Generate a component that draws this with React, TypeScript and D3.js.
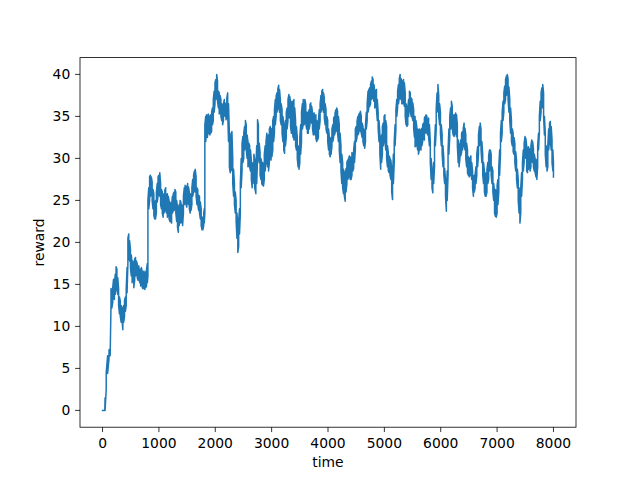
import React from 'react';
import * as d3 from 'd3';

// time steps (x)
const time = [
  0, 40, 45, 65, 90, 115, 135, 150, 165, 180,
  195, 210, 225, 240, 255, 270, 285, 300, 315, 330,
  345, 360, 375, 390, 405, 420, 435, 450, 465, 480,
  495, 510, 525, 540, 555, 570, 585, 600, 615, 630,
  645, 660, 675, 690, 705, 720, 735, 750, 765, 780,
  795, 805, 820, 835, 850, 865, 880, 895, 910, 925,
  940, 955, 970, 985, 1000, 1015, 1030, 1045, 1060, 1075,
  1090, 1105, 1120, 1135, 1150, 1165, 1180, 1195, 1210, 1225,
  1240, 1255, 1270, 1285, 1300, 1315, 1330, 1345, 1360, 1375,
  1390, 1405, 1420, 1435, 1450, 1465, 1480, 1495, 1510, 1525,
  1540, 1555, 1570, 1585, 1600, 1615, 1630, 1645, 1660, 1675,
  1690, 1705, 1720, 1735, 1750, 1765, 1780, 1795, 1805, 1815,
  1830, 1845, 1860, 1875, 1890, 1905, 1920, 1935, 1950, 1965,
  1980, 1995, 2010, 2025, 2040, 2055, 2070, 2085, 2100, 2115,
  2130, 2145, 2160, 2175, 2190, 2205, 2220, 2235, 2250, 2265,
  2280, 2295, 2310, 2325, 2340, 2355, 2370, 2385, 2400, 2415,
  2430, 2445, 2460, 2475, 2490, 2505, 2520, 2535, 2550, 2565,
  2580, 2595, 2610, 2625, 2640, 2655, 2670, 2685, 2700, 2720,
  2735, 2750, 2765, 2780, 2795, 2810, 2825, 2840, 2855, 2870,
  2885, 2900, 2915, 2930, 2945, 2960, 2975, 2990, 3005, 3020,
  3035, 3050, 3065, 3080, 3095, 3110, 3125, 3140, 3155, 3170,
  3185, 3200, 3215, 3230, 3245, 3260, 3275, 3290, 3305, 3320,
  3335, 3350, 3365, 3380, 3395, 3410, 3425, 3440, 3455, 3470,
  3485, 3500, 3515, 3530, 3545, 3560, 3575, 3590, 3605, 3620,
  3635, 3650, 3665, 3680, 3695, 3710, 3725, 3740, 3755, 3770,
  3785, 3800, 3815, 3830, 3845, 3860, 3875, 3890, 3905, 3920,
  3935, 3950, 3965, 3980, 3995, 4010, 4025, 4040, 4055, 4070,
  4085, 4100, 4115, 4125, 4140, 4155, 4170, 4185, 4200, 4215,
  4230, 4245, 4260, 4275, 4290, 4305, 4320, 4335, 4350, 4365,
  4380, 4395, 4410, 4425, 4440, 4455, 4470, 4485, 4500, 4515,
  4530, 4545, 4560, 4575, 4590, 4605, 4620, 4635, 4650, 4665,
  4680, 4695, 4710, 4725, 4740, 4755, 4770, 4785, 4800, 4815,
  4830, 4845, 4860, 4875, 4890, 4905, 4920, 4935, 4950, 4965,
  4980, 4995, 5010, 5025, 5040, 5055, 5070, 5085, 5100, 5115,
  5130, 5145, 5160, 5175, 5190, 5205, 5220, 5235, 5250, 5265,
  5280, 5295, 5310, 5325, 5340, 5355, 5370, 5385, 5400, 5415,
  5430, 5445, 5460, 5475, 5490, 5505, 5520, 5535, 5545, 5560,
  5575, 5590, 5605, 5620, 5635, 5650, 5665, 5680, 5695, 5710,
  5725, 5740, 5755, 5770, 5785, 5800, 5815, 5830, 5845, 5860,
  5875, 5890, 5905, 5920, 5935, 5950, 5965, 5980, 5995, 6010,
  6025, 6040, 6055, 6070, 6085, 6100, 6115, 6130, 6145, 6160,
  6175, 6190, 6205, 6220, 6235, 6250, 6265, 6280, 6295, 6310,
  6325, 6340, 6355, 6370, 6385, 6400, 6415, 6430, 6445, 6460,
  6475, 6490, 6505, 6520, 6535, 6550, 6565, 6580, 6595, 6610,
  6625, 6640, 6655, 6670, 6685, 6700, 6715, 6730, 6745, 6760,
  6775, 6790, 6805, 6820, 6835, 6850, 6865, 6880, 6895, 6910,
  6925, 6940, 6955, 6970, 6985, 7000, 7015, 7030, 7045, 7060,
  7075, 7090, 7105, 7120, 7135, 7150, 7165, 7180, 7195, 7210,
  7225, 7240, 7255, 7270, 7285, 7300, 7315, 7330, 7345, 7360,
  7375, 7390, 7405, 7420, 7435, 7450, 7465, 7480, 7495, 7510,
  7525, 7540, 7555, 7570, 7585, 7600, 7615, 7630, 7645, 7660,
  7675, 7690, 7705, 7720, 7735, 7750, 7765, 7780, 7795, 7810,
  7825, 7840, 7855, 7870, 7885, 7900, 7915, 7930, 7945, 7960,
  7975, 7990, 8000,
];

// lower edge of the noisy reward trace at each time step
const rewardLow = [
  0, 0, 0, 2.5, 4.4, 6.2, 6.5, 12.5, 12.2, 12.8,
  13.5, 13.2, 13.8, 14.8, 14.5, 13.8, 12.5, 11.5, 11.2, 10.5,
  10.8, 9.6, 10.5, 11.2, 11.8, 12.5, 14.0, 17.5, 18.5, 17.8,
  17.0, 16.0, 15.2, 15.8, 14.6, 15.5, 16.0, 16.2, 15.8, 15.5,
  15.8, 15.2, 14.8, 15.2, 14.6, 14.5, 14.8, 14.4, 14.6, 14.8,
  15.2, 16.0, 24.0, 25.0, 25.5, 25.8, 25.0, 24.0, 23.2, 22.8,
  22.8, 23.5, 24.8, 25.5, 26.0, 25.5, 24.5, 24.0, 23.5, 23.0,
  23.5, 24.0, 23.8, 23.5, 23.0, 23.5, 22.8, 22.5, 22.5, 22.3,
  23.5, 23.8, 23.8, 24.3, 23.5, 22.5, 21.8, 21.2, 22.0, 23.0,
  22.3, 22.5, 22.0, 23.5, 24.5, 25.0, 24.5, 24.2, 24.8, 24.5,
  24.0, 23.5, 23.8, 24.5, 25.5, 26.0, 26.5, 26.0, 25.5, 24.5,
  24.5, 23.8, 23.5, 22.8, 22.0, 21.5, 21.5, 22.0, 22.3, 23.5,
  32.0, 33.0, 32.5, 33.5, 33.0, 32.8, 33.0, 33.2, 34.0, 34.5,
  35.5, 36.5, 37.0, 37.5, 36.8, 36.0, 35.3, 35.5, 35.0, 34.5,
  34.0, 34.5, 35.2, 35.0, 34.6, 35.0, 35.5, 32.0, 29.0, 28.3,
  28.5, 28.7, 27.0, 25.5, 24.5, 23.5, 22.5, 20.5, 18.8, 19.5,
  21.0, 23.5, 26.5, 28.5, 29.5, 30.0, 31.0, 31.8, 31.0, 30.0,
  29.0, 29.5, 29.0, 28.5, 27.5, 26.5, 27.0, 27.5, 26.5, 25.8,
  27.0, 30.0, 30.5, 29.5, 28.0, 27.5, 27.0, 26.8, 26.7, 27.5,
  28.5, 29.5, 30.0, 29.0, 28.5, 29.5, 30.0, 29.8, 30.2, 31.0,
  32.0, 33.0, 34.0, 35.0, 35.5, 36.0, 36.5, 35.5, 34.5, 34.0,
  33.0, 32.0, 31.0, 30.6, 31.5, 32.5, 33.5, 34.5, 35.0, 34.8,
  33.8, 33.0, 33.5, 32.5, 32.2, 32.5, 31.5, 31.0, 30.0, 29.0,
  28.7, 29.5, 30.5, 32.0, 33.5, 34.0, 34.0, 34.5, 34.2, 33.5,
  33.0, 33.0, 33.5, 34.0, 34.5, 34.2, 33.5, 32.8, 33.0, 32.8,
  32.4, 32.0, 32.2, 32.5, 33.5, 34.5, 35.5, 36.0, 36.0, 35.5,
  34.8, 34.0, 33.5, 33.0, 32.0, 31.0, 30.5, 30.2, 30.5, 31.5,
  32.0, 32.5, 32.8, 33.0, 33.2, 33.5, 33.0, 32.0, 31.0, 29.5,
  28.5, 27.0, 26.5, 25.8, 25.5, 24.9, 26.0, 27.0, 27.5, 27.8,
  28.0, 27.5, 27.5, 28.0, 28.5, 28.8, 29.5, 31.0, 32.0, 32.5,
  32.8, 33.0, 33.5, 33.2, 33.0, 32.5, 32.0, 31.5, 31.2, 32.0,
  33.5, 34.5, 35.5, 36.0, 36.2, 36.5, 37.0, 37.5, 37.2, 36.8,
  36.0, 36.2, 35.8, 34.5, 33.5, 32.0, 30.5, 28.7, 29.5, 30.5,
  31.5, 32.5, 32.0, 31.0, 30.0, 29.0, 28.5, 28.3, 28.0, 27.5,
  26.0, 25.1, 27.0, 29.5, 31.5, 33.5, 35.0, 36.0, 36.5, 37.2,
  37.5, 37.0, 36.5, 36.5, 36.8, 36.2, 35.0, 34.0, 33.8, 34.0,
  35.0, 36.0, 35.8, 35.0, 35.0, 34.5, 33.5, 32.5, 31.4, 31.5,
  31.8, 31.0, 30.5, 31.0, 31.2, 31.0, 31.5, 32.0, 32.5, 32.2,
  33.0, 33.2, 33.0, 32.8, 32.5, 31.5, 29.5, 27.5, 26.5, 25.9,
  27.0, 29.0, 31.5, 33.5, 35.5, 36.0, 35.0, 34.0, 33.0, 31.5,
  30.5, 29.0, 28.0, 27.0, 25.5, 23.7, 25.0, 28.0, 30.5, 32.5,
  33.5, 34.0, 33.5, 32.8, 32.6, 33.0, 33.2, 32.6, 31.5, 29.5,
  29.0, 29.9, 30.3, 30.7, 31.0, 31.5, 32.0, 31.0, 29.9, 29.0,
  28.3, 28.0, 27.8, 28.0, 28.5, 27.5, 26.5, 25.5, 26.0, 26.5,
  27.0, 28.0, 29.0, 30.5, 31.5, 31.8, 31.0, 29.5, 28.0, 27.0,
  26.0, 25.5, 25.5, 26.0, 27.0, 27.5, 28.5, 29.0, 28.0, 27.0,
  26.0, 25.0, 23.5, 23.1, 23.0, 23.5, 24.5, 26.0, 28.0, 30.5,
  32.0, 33.0, 34.5, 35.5, 36.5, 37.0, 37.5, 37.8, 37.0, 35.5,
  34.5, 33.0, 32.0, 31.5, 30.8, 30.5, 29.5, 28.5, 27.5, 26.5,
  25.0, 23.5, 22.3, 23.5, 25.5, 27.5, 28.5, 29.5, 30.5, 30.0,
  28.5, 28.3, 28.7, 29.0, 28.5, 29.0, 30.0, 29.5, 29.0, 28.5,
  28.3, 27.8, 27.5, 29.0, 31.0, 33.0, 34.5, 35.5, 36.0, 36.5,
  35.0, 32.8, 30.5, 29.0, 28.5, 29.0, 31.0, 32.2, 32.0, 31.0,
  29.5, 28.5, 27.8,
];

// upper edge of the noisy reward trace at each time step
const rewardHigh = [
  0, 0, 1.5, 4.5, 6.5, 7.2, 7.3, 14.5, 14.2, 14.6,
  15.6, 15.0, 16.2, 17.1, 16.8, 15.8, 14.5, 13.5, 13.0, 12.5,
  12.2, 11.8, 12.5, 13.1, 13.5, 14.5, 17.0, 20.5, 21.0, 20.2,
  19.2, 18.5, 17.5, 17.8, 17.0, 18.0, 18.2, 17.8, 17.5, 17.2,
  17.2, 16.8, 16.8, 17.0, 16.5, 16.2, 16.6, 16.0, 16.5, 16.8,
  17.5, 25.0, 26.5, 27.8, 28.0, 27.8, 27.2, 26.3, 25.8, 24.5,
  25.0, 26.0, 27.0, 27.8, 28.0, 28.3, 27.0, 26.3, 26.0, 25.5,
  25.8, 26.2, 26.5, 25.5, 25.8, 25.5, 25.0, 24.8, 24.5, 24.5,
  25.5, 25.8, 26.0, 26.3, 26.0, 25.0, 24.2, 23.8, 24.5, 25.0,
  24.8, 24.5, 24.0, 25.5, 26.5, 26.8, 26.6, 26.3, 27.0, 26.6,
  26.0, 25.8, 25.6, 26.5, 27.5, 28.0, 28.5, 28.7, 27.8, 26.5,
  26.3, 25.6, 25.5, 24.8, 24.0, 23.0, 23.0, 23.5, 24.0, 34.0,
  35.0, 35.2, 34.8, 35.3, 35.0, 34.8, 35.2, 35.5, 36.0, 37.0,
  38.0, 39.0, 39.4, 40.0, 39.2, 38.0, 37.8, 37.5, 37.0, 36.5,
  36.0, 36.5, 37.0, 36.6, 36.2, 37.2, 37.8, 36.5, 33.0, 31.0,
  33.0, 33.2, 30.0, 28.7, 27.0, 26.0, 25.0, 23.5, 22.0, 22.5,
  24.0, 27.0, 30.0, 31.8, 32.6, 33.0, 33.8, 34.5, 34.0, 32.8,
  32.0, 31.8, 31.5, 31.0, 29.8, 29.0, 29.5, 30.5, 29.8, 29.0,
  31.5, 34.6, 34.0, 31.8, 30.7, 30.0, 29.5, 29.5, 29.3, 30.5,
  31.5, 32.0, 33.0, 32.5, 32.8, 33.5, 33.8, 33.2, 33.6, 34.5,
  35.0, 35.8, 37.0, 37.4, 37.8, 38.3, 38.7, 38.2, 37.0, 36.5,
  35.8, 35.0, 34.0, 33.5, 34.5, 35.5, 36.0, 37.0, 37.6, 37.4,
  36.8, 36.5, 36.8, 36.5, 37.0, 36.0, 34.5, 33.8, 32.5, 31.5,
  31.0, 32.5, 34.0, 35.5, 36.5, 37.0, 36.8, 37.0, 36.5, 35.5,
  35.5, 35.2, 35.8, 36.4, 36.6, 36.2, 35.5, 35.0, 35.4, 35.0,
  35.2, 34.5, 34.2, 34.5, 35.8, 36.5, 37.5, 38.0, 38.2, 37.8,
  37.2, 36.5, 35.8, 35.0, 34.5, 33.5, 32.5, 32.0, 32.5, 33.5,
  34.0, 34.8, 35.0, 35.4, 35.8, 36.0, 35.6, 35.0, 34.0, 33.0,
  31.5, 30.5, 29.5, 28.7, 28.3, 27.8, 28.8, 29.5, 29.8, 30.0,
  30.3, 30.0, 30.2, 30.7, 30.5, 31.0, 32.0, 33.5, 33.8, 34.4,
  35.0, 35.2, 35.4, 35.6, 35.0, 34.2, 33.8, 33.5, 33.0, 34.0,
  35.5, 36.5, 38.0, 38.2, 38.4, 38.8, 39.2, 39.7, 39.4, 38.8,
  38.0, 38.0, 38.2, 37.0, 35.5, 34.5, 33.0, 32.0, 32.8, 33.8,
  34.2, 35.0, 35.2, 34.5, 33.8, 31.5, 30.7, 30.3, 30.0, 29.8,
  28.8, 28.0, 30.5, 32.0, 34.0, 35.8, 37.0, 38.0, 38.8, 39.5,
  40.0, 39.5, 39.2, 39.0, 39.4, 39.0, 37.8, 36.5, 36.0, 36.0,
  37.0, 38.0, 37.8, 37.2, 37.0, 36.6, 35.8, 35.0, 35.0, 34.5,
  33.8, 33.5, 33.0, 33.5, 33.0, 33.4, 33.6, 34.0, 34.2, 34.8,
  35.0, 35.2, 35.0, 34.6, 34.8, 34.0, 32.0, 30.0, 28.5, 28.0,
  29.5, 31.8, 34.0, 36.0, 37.8, 38.8, 37.5, 36.5, 35.5, 34.0,
  32.8, 31.5, 30.0, 28.8, 27.5, 25.5, 28.5, 31.0, 33.5, 35.0,
  36.0, 36.8, 36.2, 35.0, 35.2, 35.0, 35.4, 35.2, 34.0, 32.2,
  31.0, 31.5, 32.2, 33.0, 33.2, 33.6, 34.2, 33.6, 32.8, 31.8,
  31.0, 30.2, 29.9, 30.0, 30.3, 29.5, 28.5, 27.9, 28.0, 28.0,
  29.0, 30.5, 31.4, 32.8, 33.8, 34.2, 33.5, 32.0, 30.5, 29.5,
  28.5, 28.0, 28.3, 28.7, 29.5, 30.3, 31.0, 31.0, 30.5, 29.0,
  28.5, 27.0, 26.0, 26.3, 26.0, 26.8, 27.5, 29.0, 31.0, 33.0,
  34.5, 35.5, 36.8, 37.8, 38.6, 39.4, 39.8, 40.0, 39.5, 38.5,
  37.0, 36.0, 34.5, 33.5, 33.0, 32.5, 31.8, 30.8, 29.8, 28.7,
  27.5, 26.5, 25.0, 26.5, 28.3, 29.5, 31.0, 31.8, 32.6, 32.4,
  31.5, 30.5, 31.4, 31.2, 30.7, 31.5, 32.2, 32.0, 31.2, 30.5,
  29.9, 29.9, 29.5, 31.5, 33.0, 35.0, 36.8, 37.8, 38.4, 38.8,
  37.8, 35.0, 33.0, 31.5, 30.5, 31.5, 33.5, 34.2, 34.4, 33.8,
  32.2, 31.0, 29.5,
];

const xTicks = [0, 1000, 2000, 3000, 4000, 5000, 6000, 7000, 8000];
const yTicks = [0, 5, 10, 15, 20, 25, 30, 35, 40];
const xLabel = 'time';
const yLabel = 'reward';

const W = 640;
const H = 480;
const AX = { left: 80, right: 576, top: 57.6, bottom: 427.2 };
const FONT = '"DejaVu Sans", Verdana, sans-serif';
const FS = 13.89;
const TICK = 4.86;

export default function App() {
  const n = Math.min(time.length, rewardLow.length, rewardHigh.length);
  const ts = time.slice(0, n);
  const lo = rewardLow.slice(0, n);
  const hi = rewardHigh.slice(0, n);
  const t0 = d3.min(ts) as number;
  const t1 = d3.max(ts) as number;
  const v0 = d3.min(lo) as number;
  const v1 = d3.max(hi) as number;
  const xPad = (t1 - t0) * 0.05;
  const yPad = (v1 - v0) * 0.05;

  const x = d3.scaleLinear().domain([t0 - xPad, t1 + xPad]).range([AX.left, AX.right]);
  const y = d3.scaleLinear().domain([v0 - yPad, v1 + yPad]).range([AX.bottom, AX.top]);

  // trace: at every time step draw the extremes seen in the picture, alternating order
  const verts: [number, number][] = [];
  for (let i = 0; i < n; i++) {
    if (i % 2 === 0) {
      verts.push([ts[i], hi[i]]);
      verts.push([ts[i], lo[i]]);
    } else {
      verts.push([ts[i], lo[i]]);
      verts.push([ts[i], hi[i]]);
    }
  }
  const line = d3
    .line<[number, number]>()
    .x((d) => x(d[0]))
    .y((d) => y(d[1]));

  return (
    <svg
      width={W}
      height={H}
      viewBox={`0 0 ${W} ${H}`}
      style={{ position: 'absolute', left: 0, top: 0, background: '#ffffff' }}
    >
      <rect x={0} y={0} width={W} height={H} fill="#ffffff" />
      <path
        d={line(verts) || ''}
        fill="none"
        stroke="#1f77b4"
        strokeWidth={1.5}
        strokeLinejoin="round"
        strokeLinecap="square"
      />
      <rect
        x={AX.left}
        y={AX.top}
        width={AX.right - AX.left}
        height={AX.bottom - AX.top}
        fill="none"
        stroke="#000"
        strokeWidth={0.8}
      />
      {xTicks.map((t) => (
        <g key={`x${t}`}>
          <line x1={x(t)} x2={x(t)} y1={AX.bottom} y2={AX.bottom + TICK} stroke="#000" strokeWidth={0.8} />
          <text
            x={x(t)}
            y={448.3}
            textAnchor="middle"
            fontFamily={FONT}
            fontSize={FS}
            fill="#000"
          >
            {t}
          </text>
        </g>
      ))}
      {yTicks.map((v) => (
        <g key={`y${v}`}>
          <line x1={AX.left - TICK} x2={AX.left} y1={y(v)} y2={y(v)} stroke="#000" strokeWidth={0.8} />
          <text
            x={AX.left - TICK - 4.86}
            y={y(v) + 5}
            textAnchor="end"
            fontFamily={FONT}
            fontSize={FS}
            fill="#000"
          >
            {v}
          </text>
        </g>
      ))}
      <text
        x={(AX.left + AX.right) / 2}
        y={467}
        textAnchor="middle"
        fontFamily={FONT}
        fontSize={FS}
        fill="#000"
      >
        {xLabel}
      </text>
      <text
        transform={`translate(43.8, ${(AX.top + AX.bottom) / 2}) rotate(-90)`}
        textAnchor="middle"
        fontFamily={FONT}
        fontSize={FS}
        fill="#000"
      >
        {yLabel}
      </text>
    </svg>
  );
}
